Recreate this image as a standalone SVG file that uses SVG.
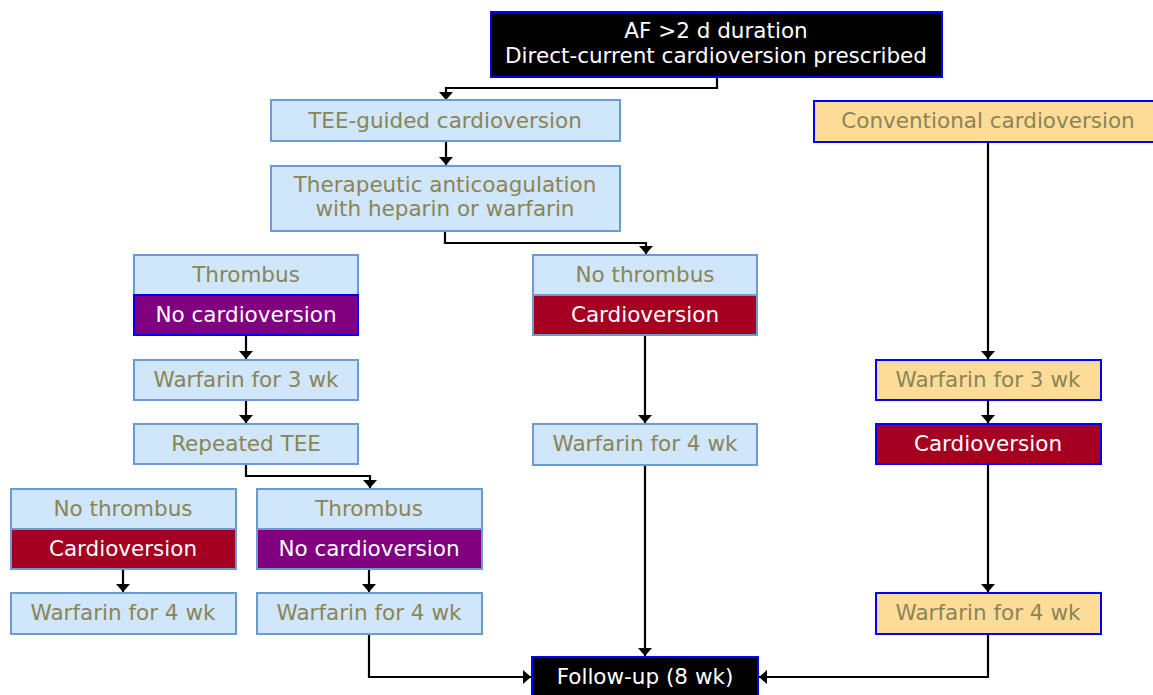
<svg xmlns="http://www.w3.org/2000/svg" width="1153" height="695" viewBox="0 0 1153 695">
<defs>
<marker id="ah" viewBox="0 0 10 10" preserveAspectRatio="none" refX="10" refY="5" markerWidth="8" markerHeight="14" markerUnits="userSpaceOnUse" orient="auto">
<path d="M0,0 L10,5 L0,10 z" fill="#000"/>
</marker>
<style>
text{font-family:"DejaVu Sans","Liberation Sans",sans-serif;font-size:21.5px;text-anchor:middle}
.lb{fill:#cfe6fb;stroke:#6b9bd1;stroke-width:2}
.or{fill:#fddc98;stroke:#0000ff;stroke-width:2}
.bk{fill:#000;stroke:#0000ff;stroke-width:2}
.pu{fill:#800080;stroke:#0000ff;stroke-width:2}
.pu2{fill:#800080;stroke:#6b9bd1;stroke-width:2}
.rd{fill:#a50021;stroke:#6b9bd1;stroke-width:2}
.rd2{fill:#a50021;stroke:#0000ff;stroke-width:2}
.t{fill:#8b8455}
.w{fill:#fff}
.c{fill:none;stroke:#000;stroke-width:2.2;marker-end:url(#ah)}
</style>
</defs>
<rect width="1153" height="695" fill="#fff"/>
<g id="connectors">
<path class="c" d="M717,77 V88 H446 V100"/>
<path class="c" d="M446,141 V165"/>
<path class="c" d="M445,231 V243 H646 V254"/>
<path class="c" d="M246,335 V359"/>
<path class="c" d="M246,400 V423"/>
<path class="c" d="M246,464 V476 H370 V488"/>
<path class="c" d="M123,569 V592"/>
<path class="c" d="M369,569 V592"/>
<path class="c" d="M645,335 V423"/>
<path class="c" d="M645,465 V656"/>
<path class="c" d="M369,634 V677 H531"/>
<path class="c" d="M988,142 V359"/>
<path class="c" d="M988,400 V423"/>
<path class="c" d="M988,464 V592"/>
<path class="c" d="M988,634 V677 H759"/>
</g>
<g id="start">
<rect class="bk" x="491" y="12" width="451" height="65"/>
<text class="w" x="716" y="38">AF &gt;2 d duration</text>
<text class="w" x="716" y="63">Direct-current cardioversion prescribed</text>
</g>
<g id="tee">
<rect class="lb" x="271" y="100" width="349" height="41"/>
<text class="t" x="445" y="128">TEE-guided cardioversion</text>
</g>
<g id="conventional">
<rect class="or" x="814" y="101" width="345" height="41"/>
<text class="t" x="988" y="128">Conventional cardioversion</text>
</g>
<g id="anticoag">
<rect class="lb" x="271" y="166" width="349" height="65"/>
<text class="t" x="445" y="192">Therapeutic anticoagulation</text>
<text class="t" x="445" y="216">with heparin or warfarin</text>
</g>
<g id="thrombus1">
<rect class="lb" x="134" y="255" width="224" height="40"/>
<text class="t" x="246" y="282">Thrombus</text>
<rect class="pu" x="134" y="295" width="224" height="40"/>
<text class="w" x="246" y="322">No cardioversion</text>
</g>
<g id="nothrombus1">
<rect class="lb" x="533" y="255" width="224" height="40"/>
<text class="t" x="645" y="282">No thrombus</text>
<rect class="rd" x="533" y="295" width="224" height="40"/>
<text class="w" x="645" y="322">Cardioversion</text>
</g>
<g id="warfarin3a">
<rect class="lb" x="134" y="360" width="224" height="40"/>
<text class="t" x="246" y="387">Warfarin for 3 wk</text>
</g>
<g id="repeatTEE">
<rect class="lb" x="134" y="424" width="224" height="40"/>
<text class="t" x="246" y="451">Repeated TEE</text>
</g>
<g id="warfarin4mid">
<rect class="lb" x="533" y="424" width="224" height="41"/>
<text class="t" x="645" y="451">Warfarin for 4 wk</text>
</g>
<g id="warfarin3c">
<rect class="or" x="876" y="360" width="225" height="40"/>
<text class="t" x="988" y="387">Warfarin for 3 wk</text>
</g>
<g id="cardioversionC">
<rect class="rd2" x="876" y="424" width="225" height="40"/>
<text class="w" x="988" y="451">Cardioversion</text>
</g>
<g id="nothrombus2">
<rect class="lb" x="11" y="489" width="225" height="40"/>
<text class="t" x="123" y="516">No thrombus</text>
<rect class="rd" x="11" y="529" width="225" height="40"/>
<text class="w" x="123" y="556">Cardioversion</text>
</g>
<g id="thrombus2">
<rect class="lb" x="257" y="489" width="225" height="40"/>
<text class="t" x="369" y="516">Thrombus</text>
<rect class="pu2" x="257" y="529" width="225" height="40"/>
<text class="w" x="369" y="556">No cardioversion</text>
</g>
<g id="warfarin4a">
<rect class="lb" x="11" y="593" width="225" height="41"/>
<text class="t" x="123" y="620">Warfarin for 4 wk</text>
</g>
<g id="warfarin4b">
<rect class="lb" x="257" y="593" width="225" height="41"/>
<text class="t" x="369" y="620">Warfarin for 4 wk</text>
</g>
<g id="warfarin4c">
<rect class="or" x="876" y="593" width="225" height="41"/>
<text class="t" x="988" y="620">Warfarin for 4 wk</text>
</g>
<g id="followup">
<rect class="bk" x="532" y="657" width="226" height="44"/>
<text class="w" x="645" y="684">Follow-up (8 wk)</text>
</g>
</svg>
